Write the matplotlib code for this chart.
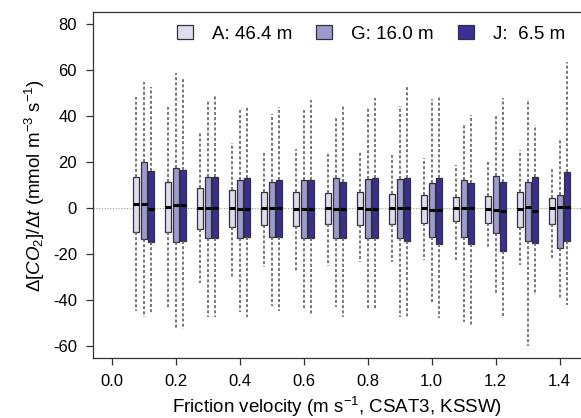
import numpy as np
import matplotlib
matplotlib.use('Agg')
import matplotlib.pyplot as plt
from matplotlib.patches import Patch

plt.rcParams['font.family'] = ['Liberation Sans', 'DejaVu Sans']
plt.rcParams['mathtext.fontset'] = 'custom'
plt.rcParams['mathtext.rm'] = 'Liberation Sans'
plt.rcParams['mathtext.it'] = 'Liberation Sans:italic'
plt.rcParams['axes.unicode_minus'] = False
plt.rcParams['xtick.direction'] = 'out'
plt.rcParams['ytick.direction'] = 'out'

# friction velocity bins (m/s)
ustar = [0.1, 0.2, 0.3, 0.4, 0.5, 0.6, 0.7, 0.8, 0.9, 1.0, 1.1, 1.2, 1.3, 1.4]

labels = ['A: 46.4 m', 'G: 16.0 m', 'J:  6.5 m']
colors = ['#dedcef', '#9d99d1', '#3a2e98']

# box statistics per level: upper whisker, q3, median, q1, lower whisker
A_hi  = [48.6, 44.2, 32.6, 28.3, 24.6, 25.7, 23.9, 25.1, 23.2, 21.7, 18.8, 20.3, 25.4, 17.4]
A_q3  = [13.8, 11.6, 9.0, 8.0, 7.2, 7.0, 6.5, 7.0, 6.1, 5.8, 5.1, 5.5, 7.2, 4.6]
A_med = [1.9, 0.6, 0.0, 0.0, 0.3, -0.3, 0.0, 0.0, 0.0, 0.0, 0.0, -0.3, -0.4, 0.0]
A_q1  = [-10.2, -10.2, -9.1, -8.3, -7.3, -7.6, -7.0, -7.3, -7.0, -6.5, -5.5, -6.3, -8.0, -7.0]
A_lo  = [-44.7, -43.5, -32.6, -29.7, -25.4, -27.3, -25.0, -23.2, -23.2, -22.5, -22.5, -16.7, -24.7, -22.5]

G_hi  = [55.1, 58.7, 47.1, 42.8, 40.9, 42.8, 40.2, 44.2, 44.5, 47.4, 37.0, 40.6, 47.6, 30.5]
G_q3  = [20.0, 17.7, 13.5, 12.3, 11.6, 12.5, 13.0, 12.8, 12.8, 11.2, 12.2, 14.1, 11.6, 5.8]
G_med = [1.8, 1.6, 0.0, -0.3, 0.0, -0.3, -0.3, -0.3, 0.0, -0.7, 0.3, -0.6, 0.7, 0.4]
G_q1  = [-13.5, -14.7, -13.1, -13.1, -12.3, -13.1, -12.8, -13.1, -12.8, -12.3, -12.3, -10.9, -14.2, -17.4]
G_lo  = [-47.2, -52.2, -47.2, -45.0, -42.5, -44.3, -42.8, -44.3, -47.2, -40.6, -49.3, -37.3, -59.8, -39.2]

J_hi  = [52.6, 56.6, 48.9, 44.7, 44.2, 47.1, 45.0, 47.9, 53.4, 48.6, 40.6, 47.9, 36.2, 63.8]
J_q3  = [16.2, 16.5, 13.5, 13.1, 12.5, 12.2, 11.3, 13.0, 13.3, 13.3, 11.2, 11.3, 13.5, 15.9]
J_med = [-0.3, 1.4, 0.1, -0.3, 0.0, -0.3, -0.3, -0.3, 0.0, -0.7, 0.0, -1.3, -1.2, 0.4]
J_q1  = [-14.7, -14.1, -13.1, -12.5, -12.3, -13.1, -12.8, -13.1, -14.1, -15.5, -15.7, -18.6, -15.2, -14.2]
J_lo  = [-45.7, -52.5, -47.2, -47.2, -44.7, -46.4, -47.2, -44.3, -47.9, -47.9, -51.2, -46.9, -37.7, -42.1]

levels = [(A_hi, A_q3, A_med, A_q1, A_lo),
          (G_hi, G_q3, G_med, G_q1, G_lo),
          (J_hi, J_q3, J_med, J_q1, J_lo)]
offsets = [-0.023, 0.0, 0.023]

fig = plt.figure(figsize=(5.81, 4.18), dpi=100)
ax = fig.add_axes([93/581., 1-358/418., 1-93/581., (358-12.3)/418.])

ax.axhline(0, color='#9a9a9a', ls=(0, (1, 1.5)), lw=0.8, zorder=0)

for k, (hi, q3, med, q1, lo) in enumerate(levels):
    stats = [dict(med=med[i], q1=q1[i], q3=q3[i], whislo=lo[i], whishi=hi[i], fliers=[])
             for i in range(len(ustar))]
    pos = np.array(ustar) + offsets[k]
    ax.bxp(stats, positions=pos, widths=0.018, patch_artist=True,
           showcaps=False, showfliers=False, manage_ticks=False,
           boxprops=dict(facecolor=colors[k], edgecolor='#333333', lw=0.9),
           medianprops=dict(color='k', lw=2.2, solid_capstyle='butt'),
           whiskerprops=dict(color='#606060', lw=1.2, ls=(0, (1.8, 1.3))))

ax.set_xlim(-0.0585, 1.4665)
ax.set_ylim(-65.1, 85.3)
ax.set_xticks(np.arange(0, 1.41, 0.2))
ax.set_xticklabels(['%.1f' % v for v in np.arange(0, 1.41, 0.2)])
ax.set_yticks(np.arange(-60, 81, 20))
ax.tick_params(labelsize=12, length=5, width=0.9, color='#333333', pad=6.5)
for s in ['left', 'top', 'bottom']:
    ax.spines[s].set_color('#333333')
    ax.spines[s].set_linewidth(0.9)
ax.spines['right'].set_visible(False)

ax.set_xlabel(r'Friction velocity (m s$^{-1}$, CSAT3, KSSW)', fontsize=13.5, labelpad=4)
ax.set_ylabel(r'$\Delta[CO_2]/\Delta t$ (mmol m$^{-3}$ s$^{-1}$)', fontsize=13.5, labelpad=4)

handles = [Patch(facecolor=c, edgecolor='#333333', lw=0.9) for c in colors]
ax.legend(handles, labels, loc='center left', bbox_to_anchor=(0.172, 0.937),
          ncol=3, frameon=False, fontsize=13.5, borderpad=0, borderaxespad=0,
          handlelength=0.85, handleheight=0.75, handletextpad=1.0, columnspacing=1.3)

fig.savefig('out.png', dpi=100)
